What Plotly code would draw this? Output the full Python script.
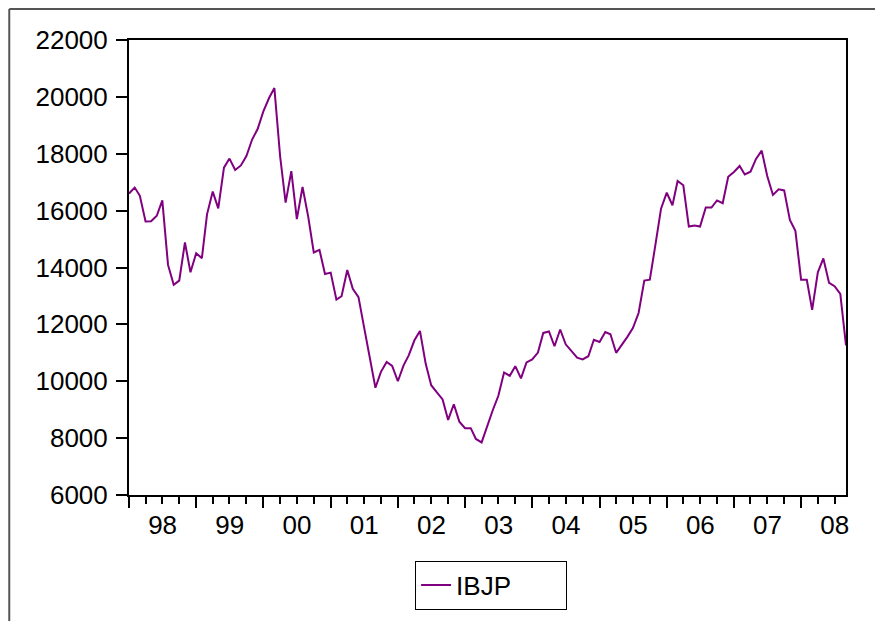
import pandas as pd
import plotly.graph_objects as go

# IBJP monthly values (Jan 1998 - Sep 2008)
ibjp_1998 = [16600, 16810, 16520, 15620, 15630, 15820, 16360, 14090, 13390, 13540, 14880, 13830]
ibjp_1999 = [14500, 14330, 15870, 16670, 16080, 17510, 17830, 17430, 17590, 17920, 18500, 18870]
ibjp_2000 = [19490, 19960, 20310, 17920, 16280, 17390, 15700, 16830, 15780, 14530, 14620, 13770]
ibjp_2001 = [13820, 12870, 12990, 13910, 13250, 12960, 11910, 10800, 9770, 10330, 10680, 10540]
ibjp_2002 = [10000, 10560, 10910, 11440, 11770, 10620, 9860, 9610, 9360, 8640, 9190, 8580]
ibjp_2003 = [8350, 8350, 7970, 7850, 8440, 8990, 9490, 10310, 10190, 10530, 10100, 10660]
ibjp_2004 = [10770, 11010, 11700, 11750, 11230, 11820, 11300, 11070, 10830, 10770, 10880, 11460]
ibjp_2005 = [11380, 11730, 11650, 11000, 11260, 11560, 11870, 12400, 13540, 13570, 14820, 16070]
ibjp_2006 = [16630, 16190, 17040, 16890, 15440, 15480, 15440, 16110, 16110, 16360, 16260, 17190]
ibjp_2007 = [17360, 17570, 17270, 17370, 17820, 18110, 17220, 16550, 16750, 16710, 15670, 15290]
ibjp_2008 = [13570, 13570, 12510, 13830, 14320, 13460, 13340, 13070, 11260]

ibjp = (ibjp_1998 + ibjp_1999 + ibjp_2000 + ibjp_2001 + ibjp_2002 + ibjp_2003
        + ibjp_2004 + ibjp_2005 + ibjp_2006 + ibjp_2007 + ibjp_2008)
months = pd.date_range("1998-01-01", periods=len(ibjp), freq="MS")

font = "Liberation Sans, Arial, sans-serif"

fig = go.Figure()
fig.add_trace(go.Scatter(x=months, y=ibjp, mode="lines", name="IBJP",
                         line=dict(color="#800080", width=2)))

# page body has an 8px margin, so the figure is 8px smaller and offset
fig.update_layout(
    width=875, height=613,
    margin=dict(l=121, r=37, t=32, b=124),
    paper_bgcolor="white", plot_bgcolor="white",
    font=dict(family=font, size=26, color="black"),
    showlegend=True,
    legend=dict(x=0.505, y=-0.144, xanchor="center", yanchor="top",
                orientation="h", entrywidth=105,
                bordercolor="black", borderwidth=1,
                font=dict(size=26)),
)

fig.update_xaxes(
    type="date", range=[months[0], months[-1]],
    tick0="1998-01-01", dtick="M12", tickformat="%y",
    ticklabelmode="period", ticklabelstandoff=-5,
    ticks="outside", ticklen=11, tickwidth=2, tickcolor="black",
    minor=dict(dtick="M3", ticks="outside", ticklen=7, tickwidth=2, tickcolor="black"),
    showline=True, linewidth=2, linecolor="black", mirror=True,
    showgrid=False, zeroline=False,
)
fig.update_yaxes(
    range=[6000, 22000], dtick=2000, tickformat="d",
    ticks="outside", ticklen=11, tickwidth=2, tickcolor="black",
    ticklabelstandoff=3,
    showline=True, linewidth=2, linecolor="black", mirror=True,
    showgrid=False, zeroline=False,
)

# outer frame (top and left edges)
fig.add_shape(type="line", xref="paper", yref="paper",
              x0=-0.167, x1=1.06, y0=1.068, y1=1.068,
              line=dict(color="#555555", width=2))
fig.add_shape(type="line", xref="paper", yref="paper",
              x0=-0.167, x1=-0.167, y0=1.068, y1=-0.28,
              line=dict(color="#555555", width=2))

fig.write_html("out.html")
